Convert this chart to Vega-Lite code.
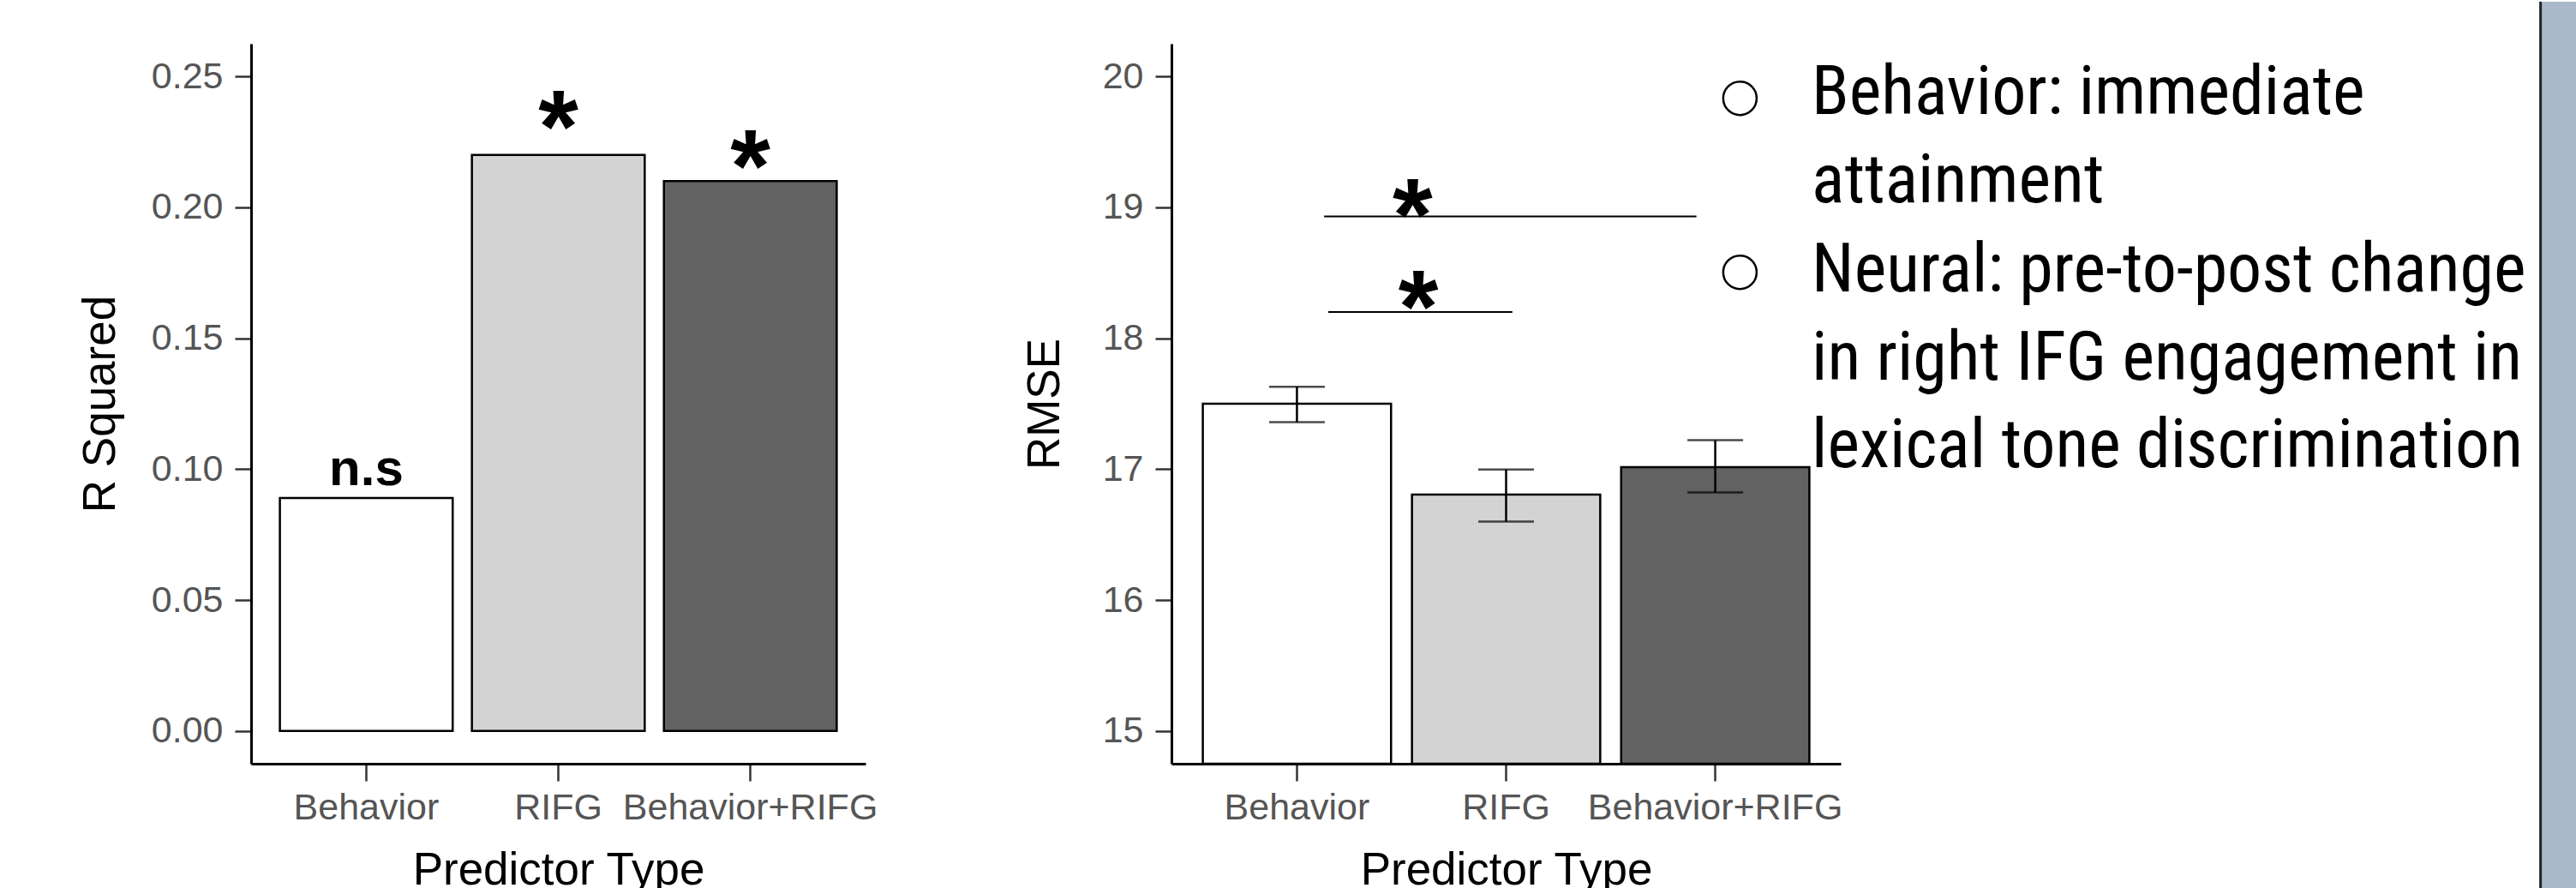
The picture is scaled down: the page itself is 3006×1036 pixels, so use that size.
{
  "$schema": "https://vega.github.io/schema/vega-lite/v6.json",
  "padding": {"left": 91, "top": 0, "right": 0, "bottom": 0},
  "background": "white",
  "config": {
    "view": {"stroke": null},
    "font": "Liberation Sans",
    "axis": {
      "grid": false,
      "domainColor": "#000000",
      "domainWidth": 3,
      "tickColor": "#333333",
      "tickWidth": 2.5,
      "tickSize": 19,
      "labelFont": "Liberation Sans",
      "labelFontSize": 43,
      "labelColor": "#555555",
      "labelLimit": 0,
      "titleFont": "Liberation Sans",
      "titleFontSize": 53,
      "titleFontWeight": "normal",
      "titleColor": "#000000"
    }
  },
  "datasets": {
    "r2": [
      {"predictor": "Behavior", "r_squared": 0.089, "significance": "n.s", "label_value": 0.094},
      {"predictor": "RIFG", "r_squared": 0.22, "significance": "*", "label_value": 0.2355},
      {"predictor": "Behavior+RIFG", "r_squared": 0.21, "significance": "*", "label_value": 0.2205}
    ],
    "rmse": [
      {"predictor": "Behavior", "rmse": 17.5, "lower": 17.36, "upper": 17.63},
      {"predictor": "RIFG", "rmse": 16.806, "lower": 16.6, "upper": 16.997},
      {"predictor": "Behavior+RIFG", "rmse": 17.015, "lower": 16.823, "upper": 17.221}
    ],
    "comparisons": [
      {"from": 1.13, "to": 2.91, "level": 18.93, "star_x": 1.553, "star_y": 19.04, "mark_label": "*"},
      {"from": 1.15, "to": 2.03, "level": 18.2, "star_x": 1.58, "star_y": 18.335, "mark_label": "*"}
    ],
    "notes": [
      {"line": "Behavior: immediate", "x": 3.461, "y": 19.713},
      {"line": "attainment", "x": 3.461, "y": 19.036},
      {"line": "Neural: pre-to-post change", "x": 3.461, "y": 18.358},
      {"line": "in right IFG engagement in", "x": 3.461, "y": 17.681},
      {"line": "lexical tone discrimination", "x": 3.461, "y": 17.017}
    ],
    "bullets": [
      {"x": 3.118, "y": 19.833},
      {"x": 3.118, "y": 18.504}
    ],
    "frame": [
      {"x": 6.946, "x2": 7.118, "y": 13.782, "y2": 20.571}
    ]
  },
  "bounds": "flush",
  "spacing": 357,
  "hconcat": [
    {
      "width": 717,
      "height": 840,
      "data": {"name": "r2"},
      "encoding": {
        "x": {
          "field": "predictor",
          "type": "nominal",
          "sort": ["Behavior", "RIFG", "Behavior+RIFG"],
          "scale": {"paddingInner": 0.1, "paddingOuter": 0.15},
          "axis": {"title": "Predictor Type", "labelAngle": 0, "tickSize": 20, "labelPadding": 10, "labelOverlap": false, "labelBound": false, "titlePadding": 25}
        }
      },
      "layer": [
        {
          "mark": {"type": "bar", "stroke": "#000000", "strokeWidth": 2.5},
          "encoding": {
            "y": {
              "field": "r_squared",
              "type": "quantitative",
              "title": "R Squared",
              "scale": {"domain": [-0.0125, 0.2625], "nice": false, "zero": false},
              "axis": {"values": [0, 0.05, 0.1, 0.15, 0.2, 0.25], "format": ".2f", "labelPadding": 14, "titlePadding": 32}
            },
            "y2": {"datum": 0},
            "fill": {
              "field": "predictor",
              "type": "nominal",
              "scale": {"domain": ["Behavior", "RIFG", "Behavior+RIFG"], "range": ["#FFFFFF", "#D3D3D3", "#626262"]},
              "legend": null
            }
          }
        },
        {
          "transform": [{"filter": "datum.significance === 'n.s'"}],
          "mark": {"type": "text", "fontWeight": "bold", "fontSize": 60, "baseline": "alphabetic", "color": "#000000"},
          "encoding": {
            "y": {"field": "label_value", "type": "quantitative", "title": "R Squared", "scale": {"domain": [-0.0125, 0.2625], "nice": false, "zero": false}},
            "text": {"field": "significance"}
          }
        },
        {
          "transform": [{"filter": "datum.significance === '*'"}],
          "mark": {"type": "text", "fontWeight": "bold", "fontSize": 120, "baseline": "alphabetic", "dy": 56, "color": "#000000"},
          "encoding": {
            "y": {"field": "label_value", "type": "quantitative", "title": "R Squared", "scale": {"domain": [-0.0125, 0.2625], "nice": false, "zero": false}},
            "text": {"field": "significance"}
          }
        }
      ]
    },
    {
      "width": 781,
      "height": 840,
      "layer": [
        {
          "data": {"name": "rmse"},
          "encoding": {
            "x": {
              "field": "predictor",
              "type": "nominal",
              "sort": ["Behavior", "RIFG", "Behavior+RIFG"],
              "scale": {"paddingInner": 0.1, "paddingOuter": 0.15},
              "axis": {"title": "Predictor Type", "labelAngle": 0, "tickSize": 20, "labelPadding": 10, "labelOverlap": false, "labelBound": false, "titlePadding": 25}
            }
          },
          "layer": [
            {
              "mark": {"type": "bar", "stroke": "#000000", "strokeWidth": 2.5},
              "encoding": {
                "y": {
                  "field": "rmse",
                  "type": "quantitative",
                  "title": "RMSE",
                  "scale": {"domain": [14.75, 20.25], "nice": false, "zero": false},
                  "axis": {"values": [15, 16, 17, 18, 19, 20], "format": "d", "labelPadding": 14, "titlePadding": 40}
                },
                "y2": {"datum": 14.75},
                "fill": {
                  "field": "predictor",
                  "type": "nominal",
                  "scale": {"domain": ["Behavior", "RIFG", "Behavior+RIFG"], "range": ["#FFFFFF", "#D3D3D3", "#626262"]},
                  "legend": null
                }
              }
            },
            {
              "mark": {"type": "rule", "color": "#000000", "strokeWidth": 2.5},
              "encoding": {
                "y": {"field": "lower", "type": "quantitative", "title": "RMSE", "scale": {"domain": [14.75, 20.25], "nice": false, "zero": false}},
                "y2": {"field": "upper"}
              }
            },
            {
              "mark": {"type": "tick", "color": "#000000", "size": 65, "thickness": 2.5},
              "encoding": {
                "y": {"field": "lower", "type": "quantitative", "title": "RMSE", "scale": {"domain": [14.75, 20.25], "nice": false, "zero": false}}
              }
            },
            {
              "mark": {"type": "tick", "color": "#000000", "size": 65, "thickness": 2.5},
              "encoding": {
                "y": {"field": "upper", "type": "quantitative", "title": "RMSE", "scale": {"domain": [14.75, 20.25], "nice": false, "zero": false}}
              }
            }
          ]
        },
        {
          "layer": [
            {
              "data": {"name": "frame"},
              "mark": {"type": "rect", "color": "#AAB9C9"},
              "encoding": {
                "x": {"field": "x", "type": "quantitative", "scale": {"domain": [0.4, 3.6], "nice": false, "zero": false}, "axis": null},
                "x2": {"field": "x2"},
                "y": {"field": "y", "type": "quantitative", "title": "RMSE", "scale": {"domain": [14.75, 20.25], "nice": false, "zero": false}},
                "y2": {"field": "y2"}
              }
            },
            {
              "data": {"name": "frame"},
              "mark": {"type": "rule", "color": "#222222", "strokeWidth": 3},
              "encoding": {
                "x": {"field": "x", "type": "quantitative", "scale": {"domain": [0.4, 3.6], "nice": false, "zero": false}, "axis": null},
                "y": {"field": "y", "type": "quantitative", "title": "RMSE", "scale": {"domain": [14.75, 20.25], "nice": false, "zero": false}},
                "y2": {"field": "y2"}
              }
            },
            {
              "data": {"name": "comparisons"},
              "mark": {"type": "rule", "color": "#000000", "strokeWidth": 2},
              "encoding": {
                "x": {"field": "from", "type": "quantitative", "scale": {"domain": [0.4, 3.6], "nice": false, "zero": false}, "axis": null},
                "x2": {"field": "to"},
                "y": {"field": "level", "type": "quantitative", "title": "RMSE", "scale": {"domain": [14.75, 20.25], "nice": false, "zero": false}}
              }
            },
            {
              "data": {"name": "comparisons"},
              "mark": {"type": "text", "fontWeight": "bold", "fontSize": 120, "baseline": "alphabetic", "dy": 56, "color": "#000000"},
              "encoding": {
                "x": {"field": "star_x", "type": "quantitative", "scale": {"domain": [0.4, 3.6], "nice": false, "zero": false}, "axis": null},
                "y": {"field": "star_y", "type": "quantitative", "title": "RMSE", "scale": {"domain": [14.75, 20.25], "nice": false, "zero": false}},
                "text": {"field": "mark_label"}
              }
            },
            {
              "data": {"name": "bullets"},
              "mark": {"type": "point", "shape": "circle", "filled": false, "size": 1521, "stroke": "#000000", "strokeWidth": 2.5, "opacity": 1},
              "encoding": {
                "x": {"field": "x", "type": "quantitative", "scale": {"domain": [0.4, 3.6], "nice": false, "zero": false}, "axis": null},
                "y": {"field": "y", "type": "quantitative", "title": "RMSE", "scale": {"domain": [14.75, 20.25], "nice": false, "zero": false}}
              }
            },
            {
              "data": {"name": "notes"},
              "mark": {"type": "text", "align": "left", "baseline": "alphabetic", "font": "Roboto Condensed", "fontSize": 80, "color": "#000000"},
              "encoding": {
                "x": {"field": "x", "type": "quantitative", "scale": {"domain": [0.4, 3.6], "nice": false, "zero": false}, "axis": null},
                "y": {"field": "y", "type": "quantitative", "title": "RMSE", "scale": {"domain": [14.75, 20.25], "nice": false, "zero": false}},
                "text": {"field": "line"}
              }
            }
          ]
        }
      ],
      "resolve": {"scale": {"x": "independent"}}
    }
  ]
}
